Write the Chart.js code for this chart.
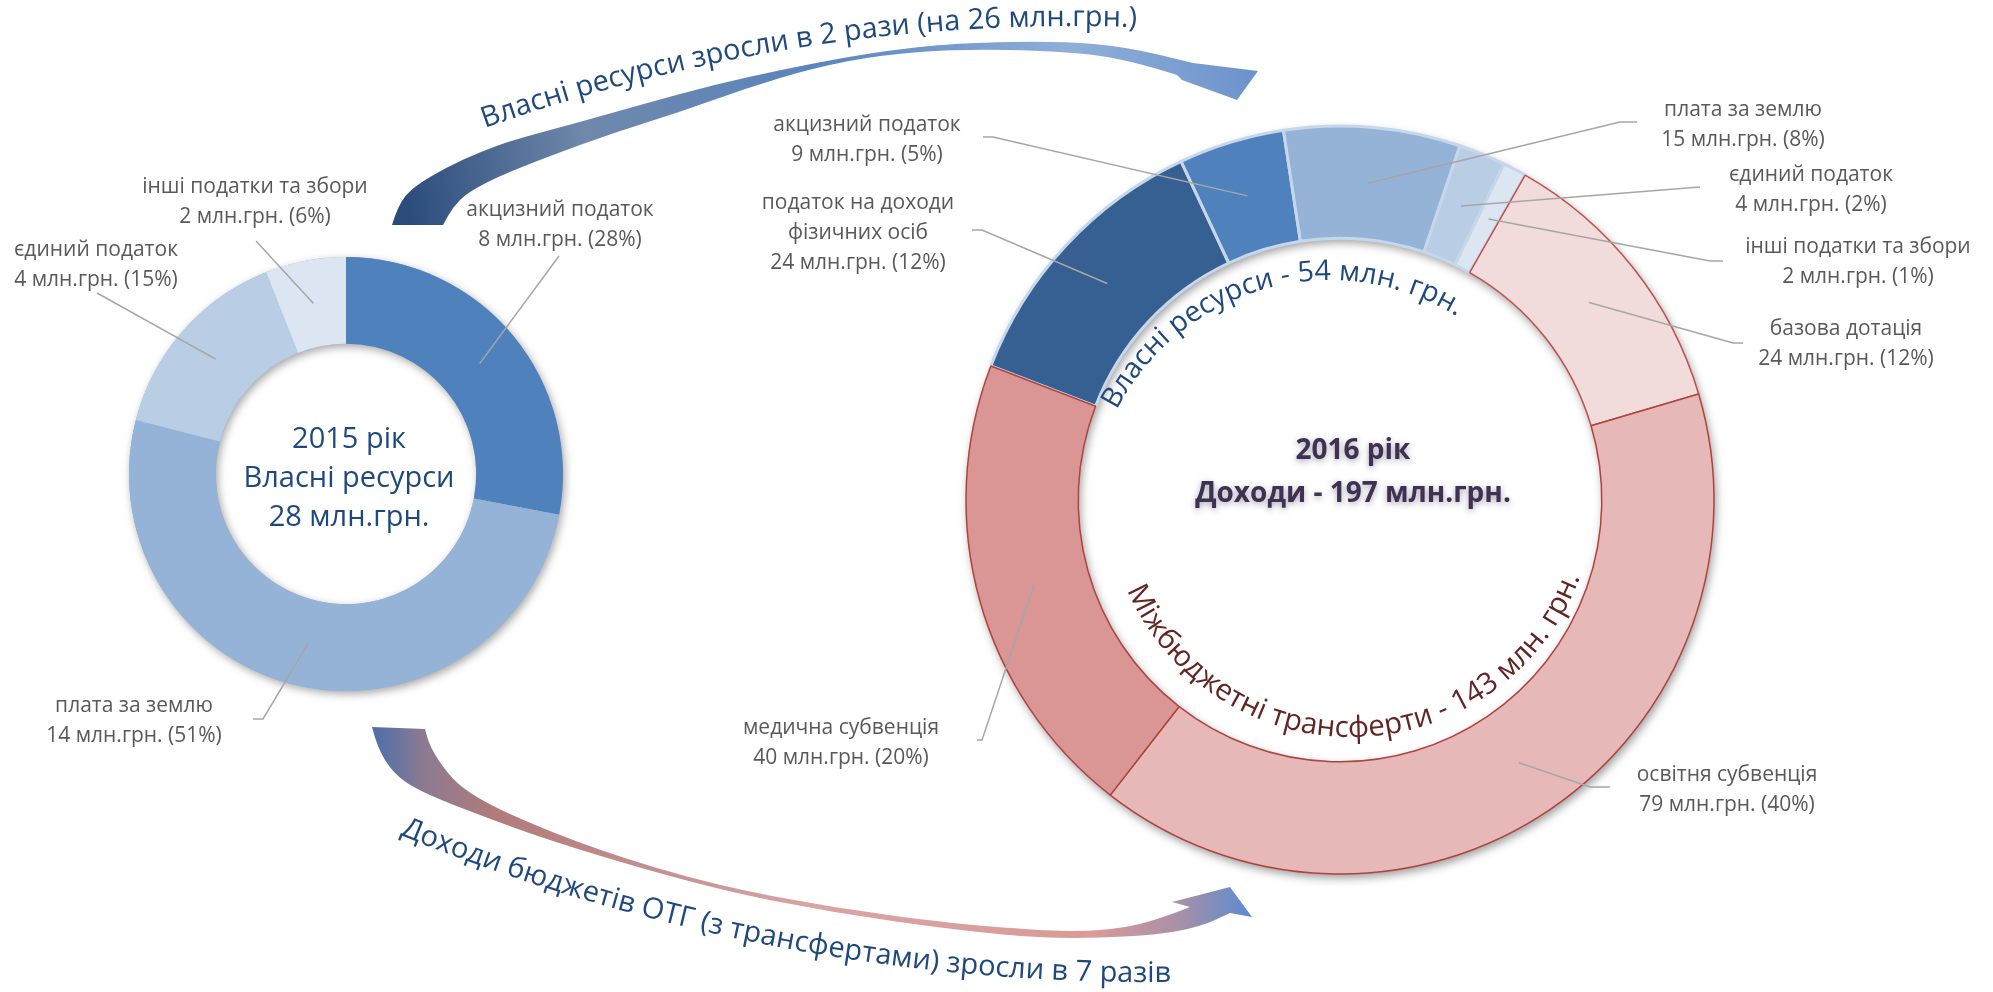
<!DOCTYPE html>
<html lang="uk">
<head>
<meta charset="utf-8">
<title>Доходи ОТГ 2015-2016</title>
<script src="https://cdn.jsdelivr.net/npm/chart.js@4.4.1/dist/chart.umd.min.js"></script>
<style>
  body { margin: 0; background: #fff; }
  .wrap { position: relative; width: 1993px; height: 992px; }
  canvas { position: absolute; left: 0; top: 0; }
</style>
</head>
<body>
<div class="wrap">
  <canvas id="chart2015" width="1993" height="992"></canvas>
  <canvas id="chart2016" width="1993" height="992"></canvas>
</div>
<script>
// 2015 - own resources
const names2015 = ["акцизний податок", "плата за землю", "єдиний податок", "інші податки та збори"]
const amounts2015 = [8, 14, 4, 2]
const shares2015 = [28, 51, 15, 6]

// 2016 - all revenues
const names2016 = [
  "податок на доходи\nфізичних осіб",
  "акцизний податок",
  "плата за землю",
  "єдиний податок",
  "інші податки та збори",
  "базова дотація",
  "освітня субвенція",
  "медична субвенція",
]
const amounts2016 = [24, 9, 15, 4, 2, 24, 79, 40]
const shares2016 = [12, 5, 8, 2, 1, 12, 40, 20]

const centerLines2015 = ["2015 рік", "Власні ресурси", "28 млн.грн."]
const centerLines2016 = ["2016 рік", "Доходи - 197 млн.грн."]
const ownTitle = "Власні ресурси - 54 млн. грн."
const transferTitle = "Міжбюджетні трансферти - 143 млн. грн."
const topArrowText = "Власні ресурси зросли в 2 рази (на 26 млн.грн.)"
const bottomArrowText = "Доходи бюджетів ОТГ (з трансфертами) зросли в 7 разів"

// styles
const colors2015 = ["#4F81BD", "#95B3D7", "#B9CDE5", "#DCE6F2"]
const colors2016 = ["#376092", "#4F81BD", "#95B3D7", "#B9CDE5", "#DCE6F2", "#F2DCDB", "#E6B9B8", "#D99694"]
const borders2016 = ["#C6D7EC", "#C6D7EC", "#C6D7EC", "#C6D7EC", "#C6D7EC", "#C0504D", "#B0433F", "#B0433F"]
const borderWidths2016 = [3, 3, 3, 3, 3, 1.5, 1.5, 1.5]

// label placement: text centre, first line y, leader start and elbow
const spots2015 = [
  { x: 560, y: 210, from: [559, 256] },
  { x: 134, y: 706, from: [253, 719], elbow: [263, 719] },
  { x: 96, y: 250, from: [97, 293] },
  { x: 255, y: 187, from: [256, 241] },
]
const spots2016 = [
  { x: 858, y: 203, from: [972, 230], elbow: [982, 230] },
  { x: 867, y: 125, from: [983, 137], elbow: [993, 137] },
  { x: 1743, y: 110, from: [1637, 122], elbow: [1620, 122] },
  { x: 1811, y: 175, from: [1700, 187] },
  { x: 1858, y: 247, from: [1723, 261], elbow: [1710, 261] },
  { x: 1846, y: 329, from: [1743, 343], elbow: [1733, 343] },
  { x: 1727, y: 775, from: [1610, 787], elbow: [1590, 787] },
  { x: 841, y: 728, from: [977, 740], elbow: [982, 740] },
]

const FONT = '"Open Sans"'
const rad = (d) => (d * Math.PI) / 180

function drawLabels(chart, names, amounts, shares, spots) {
  const ctx = chart.ctx
  const arcs = chart.getDatasetMeta(0).data
  ctx.save()
  ctx.strokeStyle = "#A6A6A6"
  ctx.lineWidth = 1.5
  ctx.fillStyle = "#595959"
  ctx.font = `21px ${FONT}`
  ctx.textAlign = "center"
  ctx.textBaseline = "middle"
  arcs.forEach((arc, i) => {
    const p = arc.getCenterPoint()
    const s = spots[i]
    ctx.beginPath()
    ctx.moveTo(s.from[0], s.from[1])
    if (s.elbow) ctx.lineTo(s.elbow[0], s.elbow[1])
    ctx.lineTo(p.x, p.y)
    ctx.stroke()
    const lines = names[i].split("\n").concat(`${amounts[i]} млн.грн. (${shares[i]}%)`)
    lines.forEach((t, k) => ctx.fillText(t, s.x, s.y + k * 30))
  })
  ctx.restore()
}

function fitFont(ctx, text, weight, width) {
  ctx.font = `${weight} 100px ${FONT}`
  const size = (100 * width) / ctx.measureText(text).width
  ctx.font = `${weight} ${size.toFixed(1)}px ${FONT}`
}

// dir 1: reads clockwise, letter tops outward; dir -1: reads anticlockwise, tops inward
function arcText(ctx, text, cx, cy, r, mid, dir) {
  const total = ctx.measureText(text).width
  const start = mid - (dir * total) / 2 / r
  ctx.textAlign = "center"
  ctx.textBaseline = "alphabetic"
  for (let i = 0; i < text.length; i++) {
    const before = ctx.measureText(text.slice(0, i)).width
    const w = ctx.measureText(text[i]).width
    const a = start + (dir * (before + w / 2)) / r
    ctx.save()
    ctx.translate(cx + r * Math.cos(a), cy + r * Math.sin(a))
    ctx.rotate(a + (dir * Math.PI) / 2)
    ctx.fillText(text[i], 0, 0)
    ctx.restore()
  }
}

function smoothTo(ctx, pts) {
  for (let i = 1; i < pts.length - 1; i++) {
    const [x, y] = pts[i]
    const [nx, ny] = pts[i + 1]
    ctx.quadraticCurveTo(x, y, (x + nx) / 2, (y + ny) / 2)
  }
  const last = pts[pts.length - 1]
  ctx.lineTo(last[0], last[1])
}

function drawArrow(ctx, outer, head, inner, fill) {
  ctx.beginPath()
  ctx.moveTo(outer[0][0], outer[0][1])
  smoothTo(ctx, outer)
  head.forEach(([x, y]) => ctx.lineTo(x, y))
  ctx.lineTo(inner[0][0], inner[0][1])
  smoothTo(ctx, inner)
  ctx.closePath()
  ctx.fillStyle = fill
  ctx.fill()
}

function drawArrows(ctx) {
  // top: own resources 2015 -> 2016
  let g = ctx.createLinearGradient(410, 225, 1250, 60)
  g.addColorStop(0, "#2B4C7B")
  g.addColorStop(0.22, "#6F88AB")
  g.addColorStop(0.5, "#5A85BE")
  g.addColorStop(0.8, "#8FAFD8")
  g.addColorStop(1, "#6C93CB")
  drawArrow(ctx,
    [[392, 225], [398, 205], [413, 187], [447, 167], [480, 152], [513, 140], [580, 122], [647, 103], [713, 85], [780, 70], [847, 57], [900, 49], [960, 43], [1060, 41], [1127, 47], [1193, 63]],
    [[1258, 71], [1237, 100], [1182, 80]],
    [[1177, 75], [1127, 59], [1060, 51], [960, 49], [880, 55], [813, 68], [747, 88], [680, 112], [613, 133], [547, 157], [497, 177], [467, 193], [453, 207], [443, 225]],
    g)

  // bottom: total revenues
  g = ctx.createLinearGradient(371, 0, 1252, 0)
  g.addColorStop(0, "#4A6FAA")
  g.addColorStop(0.06, "#8C7A92")
  g.addColorStop(0.14, "#B07B7A")
  g.addColorStop(0.5, "#D8A5A4")
  g.addColorStop(0.82, "#DA9A98")
  g.addColorStop(0.92, "#A690A8")
  g.addColorStop(1, "#5A8BD3")
  drawArrow(ctx,
    [[372, 727], [377, 747], [393, 773], [417, 790], [471, 812], [562, 845], [714, 889], [835, 913], [956, 930], [1050, 939], [1150, 936], [1200, 927], [1230, 913]],
    [[1252, 917], [1230, 887], [1172, 902]],
    [[1190, 907], [1150, 923], [1100, 931], [1050, 931], [956, 924], [835, 908], [714, 885], [600, 851], [510, 815], [467, 792], [447, 773], [430, 747], [425, 729]],
    g)

  ctx.save()
  ctx.fillStyle = "#1F497D"
  fitFont(ctx, topArrowText, "normal", 664)
  arcText(ctx, topArrowText, 1073, 1771, 1745, rad(-98.8), 1)
  fitFont(ctx, bottomArrowText, "normal", 790)
  arcText(ctx, bottomArrowText, 1150, -1002, 1984, rad(100.8), -1)
  ctx.restore()
}

// soft shadow under the whole ring, drawn before the slices
const ringShadow = {
  id: "ringShadow",
  beforeDatasetsDraw(chart, args, opts) {
    const a = chart.getDatasetMeta(0).data[0]
    const ctx = chart.ctx
    ctx.save()
    ctx.shadowColor = opts.color
    ctx.shadowBlur = opts.blur
    ctx.shadowOffsetX = opts.dx
    ctx.shadowOffsetY = opts.dy
    ctx.fillStyle = opts.fill
    ctx.beginPath()
    ctx.arc(a.x, a.y, a.outerRadius, 0, 2 * Math.PI)
    ctx.arc(a.x, a.y, a.innerRadius, 0, 2 * Math.PI, true)
    ctx.fill()
    ctx.restore()
  },
}

const decor2015 = {
  id: "decor2015",
  afterDraw(chart) {
    const ctx = chart.ctx
    const a = chart.getDatasetMeta(0).data[0]
    drawLabels(chart, names2015, amounts2015, shares2015, spots2015)
    ctx.save()
    ctx.fillStyle = "#1F497D"
    ctx.font = `29px ${FONT}`
    ctx.textAlign = "center"
    ctx.textBaseline = "middle"
    centerLines2015.forEach((t, k) => ctx.fillText(t, a.x + 3, a.y - 34 + k * 39))
    ctx.restore()
  },
}

const decor2016 = {
  id: "decor2016",
  afterDraw(chart) {
    const ctx = chart.ctx
    const a = chart.getDatasetMeta(0).data[0]
    drawLabels(chart, names2016, amounts2016, shares2016, spots2016)

    ctx.save()
    ctx.fillStyle = "#3F3151"
    ctx.shadowColor = "rgba(60,50,80,0.45)"
    ctx.shadowBlur = 6
    ctx.shadowOffsetY = 2
    ctx.font = `bold 28px ${FONT}`
    ctx.textAlign = "center"
    ctx.textBaseline = "middle"
    centerLines2016.forEach((t, k) => ctx.fillText(t, a.x + 13, a.y - 49 + k * 43))
    ctx.restore()

    ctx.save()
    ctx.fillStyle = "#1F497D"
    fitFont(ctx, ownTitle, "normal", 397)
    arcText(ctx, ownTitle, a.x - 10, a.y + 20, 240, rad(-105.4), 1)
    ctx.fillStyle = "#632523"
    fitFont(ctx, transferTitle, "normal", 581)
    arcText(ctx, transferTitle, a.x + 11, a.y - 7, 244, rad(88.35), -1)
    ctx.restore()

    drawArrows(ctx)
  },
}

const common = {
  responsive: false,
  animation: false,
  devicePixelRatio: 1,
  events: [],
  plugins: { legend: { display: false }, tooltip: { enabled: false } },
}

new Chart(document.getElementById("chart2015"), {
  type: "doughnut",
  data: {
    labels: names2015,
    datasets: [{ data: shares2015, backgroundColor: colors2015, borderWidth: 0, hoverOffset: 0 }],
  },
  options: {
    ...common,
    radius: 217,
    cutout: "60%",
    rotation: 0,
    layout: { padding: { left: 129, right: 1430, top: 257, bottom: 301 } },
    plugins: {
      ...common.plugins,
      ringShadow: { color: "rgba(0,0,0,0.35)", blur: 8, dx: 2, dy: 3, fill: "#95B3D7" },
    },
  },
  plugins: [ringShadow, decor2015],
})

new Chart(document.getElementById("chart2016"), {
  type: "doughnut",
  data: {
    labels: names2016,
    datasets: [{
      data: amounts2016,
      backgroundColor: colors2016,
      borderColor: borders2016,
      borderWidth: borderWidths2016,
      hoverOffset: 0,
    }],
  },
  options: {
    ...common,
    radius: 374,
    cutout: "70%",
    rotation: 291,
    layout: { padding: { left: 966, right: 279, top: 126, bottom: 118 } },
    plugins: {
      ...common.plugins,
      ringShadow: { color: "rgba(0,0,0,0.4)", blur: 10, dx: 2, dy: 4, fill: "#E6B9B8" },
    },
  },
  plugins: [ringShadow, decor2016],
})
</script>
</body>
</html>
